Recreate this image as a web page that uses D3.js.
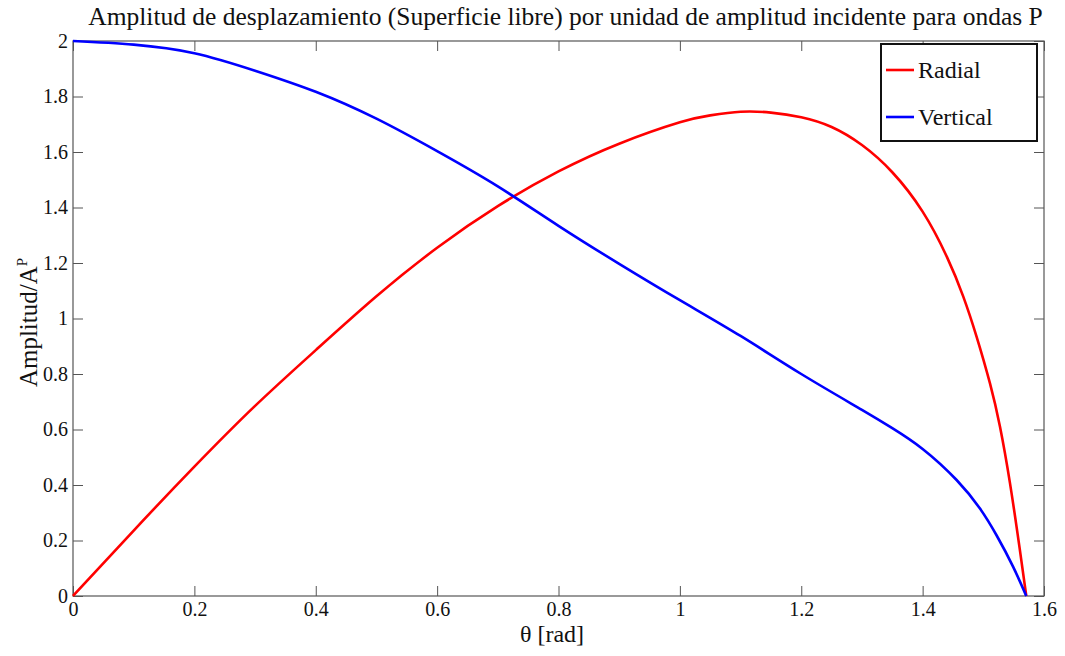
<!DOCTYPE html>
<html>
<head>
<meta charset="utf-8">
<script src="https://cdn.jsdelivr.net/npm/d3@7"></script>
<style>
  body { margin: 0; background: #fff; }
  text { font-family: "Liberation Serif", serif; fill: #111; }
</style>
</head>
<body>
<script>
// data
const theta = [0, 0.1, 0.2, 0.3, 0.4, 0.5, 0.6, 0.7, 0.8, 0.9, 1.0, 1.05, 1.1, 1.15, 1.2, 1.25, 1.3, 1.35, 1.4, 1.44, 1.467, 1.489, 1.511, 1.5275, 1.544, 1.56, 1.5708];
const radial = [0, 0.236, 0.466, 0.685, 0.886, 1.08, 1.255, 1.405, 1.53, 1.63, 1.707, 1.732, 1.745, 1.742, 1.725, 1.69, 1.625, 1.527, 1.385, 1.222, 1.079, 0.934, 0.766, 0.61, 0.406, 0.17, 0];
const thetaV = [0, 0.1, 0.2, 0.3, 0.4, 0.5, 0.6, 0.7, 0.8, 0.9, 1.0, 1.1, 1.2, 1.3, 1.35, 1.4, 1.456, 1.4945, 1.522, 1.549, 1.5708];
const vertical = [2.0, 1.987, 1.956, 1.893, 1.817, 1.72, 1.603, 1.476, 1.334, 1.197, 1.066, 0.937, 0.80, 0.671, 0.605, 0.53, 0.418, 0.315, 0.218, 0.106, 0];
const xTicks = [0, 0.2, 0.4, 0.6, 0.8, 1, 1.2, 1.4, 1.6];
const yTicks = [0, 0.2, 0.4, 0.6, 0.8, 1, 1.2, 1.4, 1.6, 1.8, 2];
const seriesNames = ["Radial", "Vertical"];
const seriesColors = ["#ff0000", "#0000ff"];

const width = 1065, height = 656;
const m = {left: 73, top: 41, right: 21, bottom: 60};
const iw = width - m.left - m.right, ih = height - m.top - m.bottom;

const svg = d3.select("body").append("svg")
    .attr("width", width).attr("height", height);

const x = d3.scaleLinear().domain([0, 1.6]).range([m.left, m.left + iw]);
const y = d3.scaleLinear().domain([0, 2]).range([m.top + ih, m.top]);

// axes (box with inward ticks on all sides)
const fmt = d => String(d);
const axisCol = "#555";
function styleAxis(g) {
  g.select(".domain").remove();
  g.selectAll(".tick line").attr("stroke", axisCol);
  g.selectAll("text").attr("font-size", 20).attr("font-family", "Liberation Serif");
}
svg.append("g").attr("transform", `translate(0,${m.top + ih})`)
  .call(d3.axisBottom(x).tickValues(xTicks).tickFormat(fmt).tickSizeInner(-10).tickSizeOuter(0).tickPadding(6))
  .call(styleAxis);
svg.append("g").attr("transform", `translate(0,${m.top})`)
  .call(d3.axisTop(x).tickValues(xTicks).tickFormat("").tickSizeInner(-10).tickSizeOuter(0))
  .call(styleAxis);
svg.append("g").attr("transform", `translate(${m.left},0)`)
  .call(d3.axisLeft(y).tickValues(yTicks).tickFormat(fmt).tickSizeInner(-10).tickSizeOuter(0).tickPadding(5))
  .call(styleAxis);
svg.append("g").attr("transform", `translate(${m.left + iw},0)`)
  .call(d3.axisRight(y).tickValues(yTicks).tickFormat("").tickSizeInner(-10).tickSizeOuter(0))
  .call(styleAxis);

svg.append("rect")
  .attr("x", m.left).attr("y", m.top).attr("width", iw).attr("height", ih)
  .attr("fill", "none").attr("stroke", axisCol).attr("stroke-width", 1.2);

// lines
const line = d3.line().x(d => x(d[0])).y(d => y(d[1])).curve(d3.curveNatural);
const series = [d3.zip(theta, radial), d3.zip(thetaV, vertical)];
svg.selectAll(".series").data(series).enter().append("path")
  .attr("d", line)
  .attr("fill", "none")
  .attr("stroke", (d, i) => seriesColors[i])
  .attr("stroke-width", 2.6);

// title and labels
svg.append("text").attr("x", m.left + iw / 2 + 7).attr("y", 25)
  .attr("text-anchor", "middle").attr("font-size", 25.5)
  .text("Amplitud de desplazamiento (Superficie libre) por unidad de amplitud incidente para ondas P");
svg.append("text").attr("x", 552).attr("y", 642)
  .attr("text-anchor", "middle").attr("font-size", 24)
  .text("θ [rad]");
const yl = svg.append("text")
  .attr("transform", `translate(37,${m.top + ih / 2 + 4}) rotate(-90)`)
  .attr("text-anchor", "middle").attr("font-size", 25);
yl.append("tspan").text("Amplitud/A");
yl.append("tspan").attr("dy", -10).attr("font-size", 15).text("P");

// legend
const lg = svg.append("g");
lg.append("rect").attr("x", 881).attr("y", 44).attr("width", 156).attr("height", 97)
  .attr("fill", "#fff").attr("stroke", "#111").attr("stroke-width", 2);
seriesNames.forEach((name, i) => {
  const ly = 70 + i * 47;
  lg.append("line").attr("x1", 886).attr("x2", 914).attr("y1", ly).attr("y2", ly)
    .attr("stroke", seriesColors[i]).attr("stroke-width", 2.6);
  lg.append("text").attr("x", 918).attr("y", ly + 8).attr("font-size", 24).text(name);
});
</script>
</body>
</html>
